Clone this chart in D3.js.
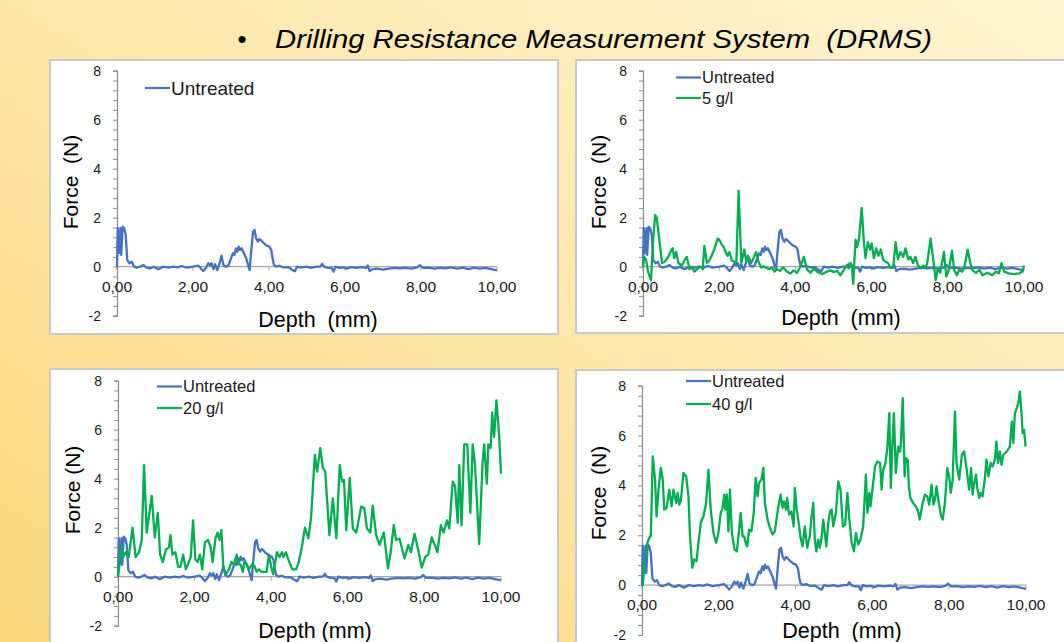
<!DOCTYPE html>
<html>
<head>
<meta charset="utf-8">
<script src="https://cdn.jsdelivr.net/npm/d3@7"></script>
<style>
  html, body { margin: 0; padding: 0; overflow: hidden; }
  svg { display: block; font-family: "Liberation Sans", Arial, sans-serif; }
  svg text { white-space: pre; }
</style>
</head>
<body>
<svg id="chart" width="1064" height="642"></svg>
<script>
// ---------------- DATA ----------------
const titleText = "Drilling Resistance Measurement System  (DRMS)";
const xTickValues = [0, 2, 4, 6, 8, 10];
const yTickValues = [-2, 0, 2, 4, 6, 8];
const xDomain = [0, 10];
const yDomain = [-2, 8];
const xAxisTitles = ["Depth  (mm)", "Depth  (mm)", "Depth (mm)", "Depth  (mm)"];
const yAxisTitles = ["Force  (N)", "Force  (N)", "Force (N)", "Force  (N)"];
const seriesNames = ["Untreated", "5 g/l", "20 g/l", "40 g/l"];

// [depth (mm), force (N)]
const untreated = [
  [0,0],[0.02,1.57],[0.05,0.55],[0.09,1.57],[0.11,0.48],[0.15,1.63],[0.19,1.57],[0.23,1.29],
  [0.27,0.27],[0.33,0.14],[0.39,0.2],[0.45,0],[0.52,-0.04],[0.61,0],[0.69,0.07],[0.78,-0.04],
  [0.87,-0.07],[0.96,0],[1.09,-0.1],[1.22,0],[1.35,-0.04],[1.48,0],[1.6,-0.03],[1.7,0.03],
  [1.83,-0.04],[2.0,0],[2.14,0.04],[2.2,-0.05],[2.27,-0.18],[2.34,-0.05],[2.4,0.14],[2.45,0.05],
  [2.49,0.14],[2.54,-0.1],[2.58,0.1],[2.64,-0.14],[2.71,0.2],[2.75,0.45],[2.8,0.07],[2.87,0],
  [2.93,0.05],[3.0,0.34],[3.05,0.55],[3.09,0.48],[3.13,0.75],[3.17,0.61],[3.2,0.82],[3.24,0.68],
  [3.28,0.75],[3.34,0.55],[3.4,0.34],[3.45,0.07],[3.49,-0.14],[3.53,0.61],[3.58,1.43],[3.62,1.5],
  [3.66,1.16],[3.71,1.02],[3.75,1.13],[3.81,1.05],[3.87,0.95],[3.94,0.86],[4.01,0.82],[4.06,0.68],
  [4.1,0.27],[4.13,0.07],[4.2,0],[4.27,0.04],[4.38,-0.03],[4.51,-0.02],[4.62,-0.14],[4.68,-0.18],
  [4.74,0],[4.85,-0.04],[4.98,0],[5.1,-0.05],[5.25,0],[5.35,0],[5.4,0.12],[5.45,0],[5.55,-0.05],
  [5.65,-0.05],[5.7,-0.2],[5.75,0],[5.85,-0.05],[5.95,-0.03],[6.05,-0.08],[6.15,-0.02],[6.3,-0.05],
  [6.45,-0.02],[6.55,-0.05],[6.6,0.05],[6.65,-0.18],[6.72,-0.1],[6.85,-0.08],[7.0,-0.12],[7.15,-0.08],
  [7.3,-0.05],[7.45,-0.07],[7.6,-0.05],[7.75,-0.08],[7.9,-0.03],[7.97,0.06],[8.05,-0.05],[8.2,-0.04],
  [8.35,-0.08],[8.5,-0.05],[8.65,-0.07],[8.8,-0.03],[8.95,-0.08],[9.1,-0.04],[9.25,-0.1],[9.4,-0.04],
  [9.55,-0.08],[9.7,-0.05],[9.85,-0.1],[10.0,-0.15]
];

const conc5 = [
  [0,0],[0.03,0.4],[0.08,0.3],[0.13,-0.2],[0.21,-0.55],[0.27,1.2],[0.32,2.1],[0.36,2.0],[0.45,0.8],
  [0.5,0.15],[0.57,0.2],[0.66,0.4],[0.75,0.7],[0.78,0.75],[0.82,0.35],[0.87,0.6],[0.93,0.15],
  [1.02,0.05],[1.1,0.3],[1.15,0.4],[1.22,-0.1],[1.3,-0.05],[1.35,-0.2],[1.42,-0.1],[1.5,0],
  [1.57,-0.1],[1.61,0.85],[1.68,0.15],[1.74,0.25],[1.8,0.45],[1.87,0.7],[1.96,1.15],[2.0,1.1],
  [2.07,0.9],[2.12,0.8],[2.18,0.55],[2.22,0.45],[2.27,0.6],[2.33,0.25],[2.4,0.2],[2.45,0.15],
  [2.51,3.1],[2.58,0.15],[2.66,0.7],[2.71,0.2],[2.77,0.4],[2.84,0.15],[2.9,0.35],[2.97,0.6],
  [3.03,0.2],[3.1,-0.03],[3.17,0.02],[3.24,-0.05],[3.32,-0.1],[3.38,-0.03],[3.45,-0.2],[3.52,-0.1],
  [3.59,-0.17],[3.68,-0.03],[3.78,-0.2],[3.87,-0.28],[3.95,-0.15],[4.04,-0.25],[4.13,0],[4.22,0.4],
  [4.3,-0.1],[4.4,-0.25],[4.48,-0.07],[4.57,-0.2],[4.7,-0.3],[4.83,-0.2],[4.92,-0.15],[5.0,-0.22],
  [5.1,-0.17],[5.18,-0.35],[5.27,-0.13],[5.34,0.05],[5.4,-0.07],[5.45,0.15],[5.48,0.07],[5.52,-0.7],
  [5.55,0.3],[5.58,1.1],[5.62,0.8],[5.67,1.15],[5.74,2.4],[5.8,0.95],[5.84,0.35],[5.9,1.0],
  [5.96,0.7],[6.0,0.95],[6.06,0.35],[6.12,0.75],[6.18,0.45],[6.24,0.7],[6.3,0.3],[6.37,0.2],
  [6.43,0.15],[6.5,-0.05],[6.57,0],[6.63,1.0],[6.69,0.3],[6.76,0.6],[6.83,0.4],[6.89,0.75],
  [6.96,0.3],[7.02,0.4],[7.09,0.15],[7.15,0.4],[7.22,0.05],[7.29,-0.05],[7.36,0.05],[7.42,-0.05],
  [7.46,0.15],[7.55,1.15],[7.64,0],[7.68,-0.55],[7.74,-0.07],[7.8,-0.25],[7.9,0.6],[7.96,-0.4],
  [8.03,-0.13],[8.11,0.65],[8.17,-0.15],[8.24,-0.35],[8.3,-0.13],[8.37,-0.2],[8.43,-0.05],[8.52,0.7],
  [8.59,0.15],[8.65,-0.15],[8.74,-0.25],[8.83,-0.13],[8.91,-0.35],[9.04,-0.25],[9.17,-0.35],
  [9.26,-0.2],[9.34,-0.27],[9.41,0.15],[9.48,-0.2],[9.6,-0.27],[9.75,-0.3],[9.88,-0.27],[9.96,-0.2],
  [10.0,0.05]
];

const conc20 = [
  [0,0],[0.05,0.6],[0.1,1.2],[0.14,0.8],[0.2,1.0],[0.28,0.8],[0.38,2.0],[0.46,0.8],[0.55,1.0],
  [0.62,1.5],[0.68,4.55],[0.75,1.8],[0.88,3.3],[0.96,1.6],[1.04,2.6],[1.1,0.9],[1.17,0.6],[1.25,1.1],
  [1.33,1.2],[1.37,1.7],[1.42,0.9],[1.5,1.0],[1.57,0.4],[1.63,0.4],[1.7,0.9],[1.77,0.3],[1.85,0.6],
  [1.9,0.8],[1.96,2.3],[2.02,0.7],[2.08,0.6],[2.14,0.9],[2.2,0.3],[2.27,1.4],[2.35,1.5],[2.42,1.2],
  [2.47,0.6],[2.55,1.6],[2.6,1.8],[2.65,1.5],[2.7,1.9],[2.75,0.4],[2.82,0.1],[2.9,0.3],[2.96,0.6],
  [3.02,0.5],[3.1,0.9],[3.14,0.5],[3.2,0.5],[3.26,0.2],[3.3,0.6],[3.35,0.55],[3.42,0.3],[3.5,0.5],
  [3.56,0.45],[3.62,0.2],[3.68,0.3],[3.74,0.2],[3.8,0.2],[3.88,0.2],[3.94,0.9],[4.0,0.4],[4.05,0.1],
  [4.15,1.0],[4.22,0.8],[4.28,1.0],[4.32,0.8],[4.38,1.0],[4.45,0.7],[4.55,0.3],[4.65,0.3],[4.72,0.6],
  [4.8,1.2],[4.88,2.0],[4.97,1.57],[5.04,2.4],[5.14,4.97],[5.2,4.29],[5.28,5.25],[5.35,4.44],
  [5.41,4.3],[5.52,1.7],[5.61,3.2],[5.7,1.57],[5.79,4.56],[5.85,3.88],[5.9,3.95],[5.96,1.9],
  [6.05,4.03],[6.13,1.97],[6.22,1.8],[6.35,2.86],[6.43,2.8],[6.5,1.97],[6.59,1.8],[6.65,2.9],
  [6.74,1.7],[6.83,1.3],[6.94,1.8],[7.05,0.34],[7.12,1.0],[7.2,2.1],[7.26,1.5],[7.35,1.55],
  [7.48,0.75],[7.58,1.3],[7.65,1.0],[7.74,1.75],[7.83,1.15],[7.93,0.37],[8.02,0.8],[8.1,0.9],
  [8.19,1.6],[8.27,1.3],[8.34,1.0],[8.43,2.1],[8.5,1.8],[8.59,2.3],[8.65,1.97],[8.74,3.88],[8.8,3.7],
  [8.87,2.2],[8.91,4.56],[8.97,2.1],[9.04,5.4],[9.12,5.4],[9.2,2.6],[9.26,5.4],[9.32,4.6],[9.43,1.33],
  [9.52,4.7],[9.56,5.4],[9.63,3.8],[9.67,5.4],[9.73,5.25],[9.77,6.7],[9.82,5.7],[9.88,7.2],[9.95,5.8],
  [10.0,4.2]
];

const conc40 = [
  [0,0],[0.02,0],[0.08,1.03],[0.14,1.7],[0.21,1.96],[0.23,1.96],[0.28,5.16],[0.34,4.23],[0.38,2.76],
  [0.43,3.83],[0.49,4.7],[0.54,4.23],[0.58,3.03],[0.64,3.1],[0.71,3.83],[0.77,3.16],[0.82,3.83],
  [0.89,3.3],[0.93,3.7],[0.97,3.23],[1.01,3.36],[1.08,4.5],[1.15,4.36],[1.21,3.56],[1.25,1.96],
  [1.31,0.7],[1.36,1.03],[1.42,0.96],[1.48,1.83],[1.53,2.5],[1.6,2.76],[1.67,3.3],[1.73,4.63],
  [1.79,3.03],[1.86,2.1],[1.93,1.7],[1.99,2.1],[2.05,2.9],[2.1,3.1],[2.14,3.63],[2.17,3.03],
  [2.21,3.63],[2.25,2.16],[2.29,3.83],[2.34,2.1],[2.41,1.43],[2.47,1.36],[2.53,2.23],[2.57,2.9],
  [2.62,1.96],[2.66,1.96],[2.71,1.63],[2.74,1.56],[2.79,2.23],[2.85,2.16],[2.91,2.9],[2.96,4.3],
  [3.01,3.56],[3.05,4.1],[3.11,4.23],[3.16,4.7],[3.2,3.3],[3.27,2.63],[3.33,2.3],[3.4,2.03],
  [3.46,2.16],[3.52,2.83],[3.57,3.3],[3.61,3.63],[3.66,3.1],[3.7,3.36],[3.75,3.03],[3.78,3.5],
  [3.83,2.83],[3.89,2.96],[3.95,2.36],[3.98,3.9],[4.03,3.03],[4.08,2.5],[4.13,1.9],[4.18,1.56],
  [4.24,2.36],[4.3,1.5],[4.37,1.96],[4.41,2.7],[4.46,3.3],[4.5,1.83],[4.54,1.36],[4.59,1.83],
  [4.63,1.5],[4.67,1.83],[4.72,2.63],[4.76,2.1],[4.8,1.56],[4.85,2.5],[4.9,2.96],[4.94,3.03],
  [4.98,2.36],[5.05,2.9],[5.11,4.16],[5.17,3.83],[5.23,2.36],[5.29,2.43],[5.35,3.7],[5.4,2.63],
  [5.46,1.7],[5.52,1.36],[5.57,2.1],[5.63,1.63],[5.69,1.83],[5.76,2.36],[5.83,4.43],[5.87,2.9],
  [5.92,3.7],[5.95,3.16],[6.0,3.83],[6.07,4.76],[6.13,4.96],[6.2,4.9],[6.24,3.83],[6.28,4.63],
  [6.33,4.83],[6.39,5.5],[6.44,6.9],[6.48,3.9],[6.53,5.96],[6.56,6.9],[6.61,4.5],[6.67,5.56],
  [6.72,5.36],[6.74,5.63],[6.79,7.5],[6.84,4.36],[6.87,5.1],[6.92,5.03],[6.95,3.96],[6.99,3.5],
  [7.06,3.3],[7.13,3.16],[7.19,2.96],[7.23,2.63],[7.31,3.3],[7.37,3.63],[7.43,3.56],[7.48,3.23],
  [7.54,4.03],[7.59,3.23],[7.63,3.43],[7.67,3.96],[7.73,3.3],[7.79,2.76],[7.83,2.63],[7.89,3.3],
  [7.95,4.7],[8.0,4.36],[8.04,3.7],[8.09,4.23],[8.15,6.96],[8.19,4.9],[8.26,4.23],[8.33,5.23],
  [8.39,5.36],[8.45,4.7],[8.52,3.83],[8.57,4.7],[8.61,3.63],[8.65,4.1],[8.7,4.43],[8.73,3.9],
  [8.78,3.5],[8.82,3.7],[8.87,3.56],[8.93,4.3],[8.97,5.03],[9.02,4.36],[9.08,4.9],[9.13,4.76],
  [9.19,5.03],[9.23,5.76],[9.27,4.9],[9.32,5.36],[9.36,4.83],[9.41,5.23],[9.5,5.36],[9.58,5.56],
  [9.63,6.56],[9.67,5.7],[9.71,6.9],[9.76,7.1],[9.8,7.3],[9.84,7.76],[9.89,6.76],[9.91,6.1],
  [9.95,6.23],[9.99,5.56]
];

// ---------------- LAYOUT / STYLE ----------------
const BLUE = "#4472C4";
const GREEN = "#00B050";

const panels = [
  { box:[50,60,508,274], plot:{x0:117,x1:497,yTop:70.7,yBot:315.7},
    yTitle:[71,182], xTitle:[318,327], legend:{x:145,ys:[88],fs:19},
    series:[{data:untreated,color:BLUE,name:seriesNames[0]}], idx:0 },
  { box:[576,60,500,273], plot:{x0:643,x1:1024,yTop:70.7,yBot:315.7},
    yTitle:[599,182], xTitle:[841,325], legend:{x:676,ys:[77.5,98],fs:16.5},
    series:[{data:untreated,color:BLUE,name:seriesNames[0]},{data:conc5,color:GREEN,name:seriesNames[1]}], idx:1 },
  { box:[50,369,508,290], plot:{x0:118,x1:501,yTop:380.7,yBot:625.7},
    yTitle:[73,490], xTitle:[315,638], legend:{x:157,ys:[386.5,408],fs:16.5},
    series:[{data:untreated,color:BLUE,name:seriesNames[0]},{data:conc20,color:GREEN,name:seriesNames[2]}], idx:2 },
  { box:[576,370,500,290], plot:{x0:642,x1:1026,yTop:385.7,yBot:635},
    yTitle:[599,493], xTitle:[842,638], legend:{x:686,ys:[381,404],fs:16.5},
    series:[{data:untreated,color:BLUE,name:seriesNames[0]},{data:conc40,color:GREEN,name:seriesNames[3]}], idx:3 }
];

const svg = d3.select("#chart");
const defs = svg.append("defs");
const grad = defs.append("linearGradient").attr("id","bg")
  .attr("x1","0%").attr("y1","100%").attr("x2","100%").attr("y2","0%");
grad.append("stop").attr("offset","0%").attr("stop-color","#FBD67A");
grad.append("stop").attr("offset","45%").attr("stop-color","#FDE5A4");
grad.append("stop").attr("offset","100%").attr("stop-color","#FFF5D2");
svg.append("rect").attr("width",1064).attr("height",642).attr("fill","url(#bg)");

// Title
svg.append("text").attr("x",242).attr("y",48).attr("text-anchor","middle")
  .attr("font-size",26).attr("fill","#000").text("•");
svg.append("text").attr("x",275).attr("y",48)
  .attr("font-size",26.5).attr("font-style","italic").attr("fill","#000")
  .attr("textLength",657).attr("lengthAdjust","spacingAndGlyphs")
  .text(titleText);

panels.forEach(p => {
  const g = svg.append("g");
  g.append("rect").attr("x",p.box[0]).attr("y",p.box[1]).attr("width",p.box[2]).attr("height",p.box[3])
    .attr("fill","#fff").attr("stroke","#C9C9C9").attr("stroke-width",2);

  const x = d3.scaleLinear().domain(xDomain).range([p.plot.x0, p.plot.x1]);
  const y = d3.scaleLinear().domain(yDomain).range([p.plot.yBot, p.plot.yTop]);

  // zero line (horizontal axis)
  g.append("line").attr("x1",x(0)).attr("x2",x(10)).attr("y1",y(0)).attr("y2",y(0))
    .attr("stroke","#A6A6A6").attr("stroke-width",1.2);
  // x major ticks
  g.selectAll(".xt").data(xTickValues).enter().append("line")
    .attr("x1",d=>x(d)).attr("x2",d=>x(d)).attr("y1",y(0)).attr("y2",y(0)+4)
    .attr("stroke","#A6A6A6").attr("stroke-width",1);

  // y axis
  const yAxis = d3.axisLeft(y).tickValues(d3.range(-2, 8.001, 0.4)).tickSize(4).tickFormat("");
  const ya = g.append("g").attr("transform",`translate(${p.plot.x0},0)`).call(yAxis);
  ya.select(".domain").attr("stroke","#8C8C8C").attr("stroke-width",1.2);
  ya.selectAll(".tick line").attr("stroke","#8C8C8C").attr("stroke-width",1);

  // y tick labels
  g.selectAll(".yl").data(yTickValues).enter().append("text")
    .attr("x",p.plot.x0-16).attr("y",d=>y(d)).attr("dy","0.36em")
    .attr("text-anchor","end").attr("font-size",14).attr("fill","#1a1a1a")
    .text(d=>d);
  // x tick labels
  g.selectAll(".xl").data(xTickValues).enter().append("text")
    .attr("x",d=>x(d)).attr("y",y(0)+25)
    .attr("text-anchor","middle").attr("font-size",15.5).attr("fill","#1a1a1a")
    .text(d=>d3.format(".2f")(d).replace(".",","));

  // axis titles
  g.append("text").attr("transform",`translate(${p.yTitle[0]},${p.yTitle[1]}) rotate(-90)`)
    .attr("text-anchor","middle").attr("dy","0.35em").attr("font-size",21).attr("fill","#000")
    .text(yAxisTitles[p.idx]);
  g.append("text").attr("x",p.xTitle[0]).attr("y",p.xTitle[1]).attr("text-anchor","middle")
    .attr("font-size",21.5).attr("fill","#000").text(xAxisTitles[p.idx]);

  // series
  const line = d3.line().x(d=>x(d[0])).y(d=>y(d[1]));
  p.series.forEach(s => {
    g.append("path").attr("d",line(s.data)).attr("fill","none")
      .attr("stroke",s.color).attr("stroke-width",2.3).attr("stroke-linejoin","round");
  });

  // legend
  p.series.forEach((s,i) => {
    const ly = p.legend.ys[i];
    g.append("line").attr("x1",p.legend.x).attr("x2",p.legend.x+25).attr("y1",ly).attr("y2",ly)
      .attr("stroke",s.color).attr("stroke-width",2.2);
    g.append("text").attr("x",p.legend.x+26).attr("y",ly).attr("dy","0.36em")
      .attr("font-size",p.legend.fs).attr("fill","#1a1a1a").text(s.name);
  });
});
</script>
</body>
</html>
